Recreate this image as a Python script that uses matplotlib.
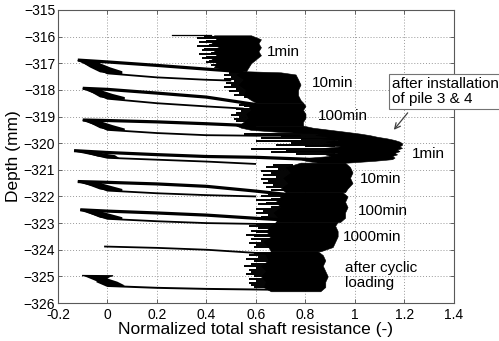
import numpy as np
import matplotlib.pyplot as plt

plt.rcParams['font.family'] = ['Liberation Sans', 'DejaVu Sans']

# ---- values: x = normalized shaft resistance, d = depth (mm)

start_x = [0.26, 0.42]
start_d = [-315.95, -315.95]

# unload / reload loops (upper branch thick, lower branch thin)
up_x = [
    [-0.12, 0.0, 0.2, 0.4, 0.55],
    [-0.10, 0.0, 0.2, 0.4, 0.6],
    [-0.10, 0.0, 0.2, 0.4, 0.6],
    [-0.135, 0.0, 0.2, 0.4, 0.6, 0.8, 0.96],
    [-0.12, 0.0, 0.2, 0.4, 0.6, 0.75],
    [-0.11, 0.0, 0.2, 0.4, 0.6, 0.75],
]
up_d = [
    [-316.88, -316.95, -317.08, -317.22, -317.32],
    [-317.94, -317.98, -318.12, -318.27, -318.55],
    [-319.13, -319.15, -319.2, -319.27, -319.35],
    [-320.28, -320.35, -320.43, -320.5, -320.53, -320.6, -320.68],
    [-321.44, -321.47, -321.53, -321.62, -321.8, -321.95],
    [-322.5, -322.55, -322.62, -322.7, -322.82, -322.9],
]
lo_x = [
    [-0.12, -0.06, 0.0, 0.2, 0.4, 0.5],
    [-0.10, -0.04, 0.0, 0.2, 0.4, 0.55],
    [-0.10, -0.04, 0.0, 0.2, 0.4, 0.6, 0.78],
    [-0.135, -0.06, 0.0, 0.2, 0.4, 0.6],
    [-0.12, -0.05, 0.0, 0.2, 0.4, 0.6],
    [-0.11, -0.05, 0.0, 0.2, 0.4, 0.6],
]
lo_d = [
    [-316.88, -317.12, -317.38, -317.53, -317.62, -317.65],
    [-317.94, -318.15, -318.33, -318.5, -318.62, -318.7],
    [-319.13, -319.32, -319.5, -319.62, -319.7, -319.72, -319.72],
    [-320.28, -320.42, -320.55, -320.62, -320.69, -320.78],
    [-321.44, -321.6, -321.78, -321.88, -321.95, -322.0],
    [-322.5, -322.68, -322.84, -322.93, -323.0, -323.03],
]
# dark wedge at the tip of every loop
patch_x = [
    [-0.12, -0.03, -0.03, 0.01, 0.06, 0.06, 0.0, -0.03, -0.07],
    [-0.10, -0.02, -0.02, 0.02, 0.07, 0.07, 0.0, -0.03, -0.06],
    [-0.10, -0.02, -0.02, 0.02, 0.07, 0.07, 0.0, -0.03, -0.06],
    [-0.135, -0.03, -0.02, 0.03, 0.05, 0.0, -0.04, -0.08],
    [-0.12, -0.03, -0.02, 0.02, 0.06, 0.06, 0.0, -0.03, -0.07],
    [-0.11, -0.03, -0.02, 0.02, 0.06, 0.06, 0.0, -0.03, -0.07],
    [-0.10, 0.02, 0.0, 0.04, 0.07, 0.05, 0.0, -0.04],
]
patch_d = [
    [-316.88, -316.93, -317.0, -317.15, -317.3, -317.43, -317.38, -317.34, -317.16],
    [-317.94, -317.97, -318.03, -318.15, -318.27, -318.37, -318.33, -318.28, -318.12],
    [-319.13, -319.14, -319.2, -319.32, -319.45, -319.54, -319.5, -319.44, -319.3],
    [-320.28, -320.33, -320.38, -320.45, -320.57, -320.55, -320.5, -320.4],
    [-321.44, -321.46, -321.52, -321.62, -321.72, -321.81, -321.78, -321.74, -321.6],
    [-322.5, -322.53, -322.58, -322.68, -322.78, -322.87, -322.84, -322.8, -322.65],
    [-324.97, -324.98, -325.08, -325.2, -325.34, -325.4, -325.36, -325.2],
]

line7_x = [-0.01, 0.2, 0.4, 0.6, 0.68]
line7_d = [-323.88, -323.93, -324.0, -324.12, -324.2]
loop8_up_x = [-0.10, 0.02]
loop8_up_d = [-324.97, -324.98]
loop8_lo_x = [-0.04, 0.0, 0.2, 0.4, 0.67]
loop8_lo_d = [-325.2, -325.36, -325.43, -325.47, -325.5]

# noisy jacking bands: depth, core left edge, right edge
bA_d = [-315.95, -316.1, -316.25, -316.4, -316.55, -316.7, -316.85, -317.0, -317.15, -317.3]
bA_l = [0.43, 0.44, 0.42, 0.45, 0.43, 0.44, 0.42, 0.44, 0.43, 0.50]
bA_r = [0.58, 0.62, 0.61, 0.62, 0.61, 0.62, 0.60, 0.58, 0.57, 0.56]

bB_d = [-317.3, -317.34, -317.42, -317.6, -317.8, -318.0, -318.2, -318.38, -318.48]
bB_l = [0.55, 0.54, 0.52, 0.55, 0.53, 0.56, 0.55, 0.58, 0.6]
bB_r = [0.56, 0.70, 0.76, 0.77, 0.78, 0.77, 0.77, 0.78, 0.79]

bC_d = [-318.48, -318.6, -318.75, -318.9, -319.05, -319.2, -319.34]
bC_l = [0.58, 0.57, 0.58, 0.56, 0.57, 0.55, 0.53]
bC_r = [0.79, 0.80, 0.79, 0.80, 0.80, 0.79, 0.79]

bD_d = [-319.34, -319.42, -319.5, -319.58, -319.64, -319.7, -319.76, -319.82, -319.88,
        -319.94, -320.0, -320.06, -320.12, -320.18, -320.24, -320.3, -320.36, -320.42,
        -320.48, -320.54, -320.6, -320.66, -320.73]
bD_l = [0.52, 0.54, 0.58, 0.70, 0.86, 0.84, 0.90, 0.86, 0.93, 0.88, 0.91, 0.86, 0.94,
        0.87, 0.91, 0.85, 0.93, 0.88, 0.90, 0.82, 0.78, 0.80, 0.85]
bD_r = [0.79, 0.83, 0.90, 0.97, 1.02, 1.06, 1.09, 1.13, 1.16, 1.18, 1.19, 1.19, 1.18,
        1.19, 1.17, 1.18, 1.16, 1.17, 1.15, 1.16, 1.15, 1.08, 0.97]

bE_d = [-320.73, -320.9, -321.1, -321.3, -321.5, -321.7, -321.84]
bE_l = [0.78, 0.72, 0.74, 0.71, 0.73, 0.70, 0.72]
bE_r = [0.96, 0.98, 0.99, 0.98, 0.99, 0.97, 0.96]

bF_d = [-321.84, -322.0, -322.2, -322.4, -322.6, -322.8, -322.96]
bF_l = [0.72, 0.70, 0.68, 0.70, 0.67, 0.69, 0.68]
bF_r = [0.95, 0.97, 0.96, 0.97, 0.96, 0.96, 0.94]

bG_d = [-322.96, -323.1, -323.3, -323.5, -323.7, -323.9, -324.06]
bG_l = [0.68, 0.66, 0.64, 0.66, 0.63, 0.65, 0.66]
bG_r = [0.93, 0.92, 0.93, 0.93, 0.92, 0.91, 0.86]

bH_d = [-324.06, -324.2, -324.4, -324.6, -324.8, -325.0, -325.2, -325.4, -325.56]
bH_l = [0.66, 0.64, 0.65, 0.62, 0.64, 0.62, 0.64, 0.63, 0.66]
bH_r = [0.85, 0.87, 0.88, 0.87, 0.88, 0.89, 0.88, 0.88, 0.86]

# streaks sticking out to the left of each band (depth, tip x)
sA_d = [-316.0, -316.06, -316.15, -316.22, -316.3, -316.37, -316.45, -316.52, -316.6,
        -316.67, -316.75, -316.82, -316.9, -316.97, -317.05]
sA_x = [0.39, 0.36, 0.40, 0.37, 0.41, 0.36, 0.39, 0.38, 0.42, 0.37, 0.40, 0.38, 0.41,
        0.40, 0.42]
sB_d = [-317.38, -317.45, -317.52, -317.6, -317.67, -317.75, -317.82, -317.9, -317.97,
        -318.05, -318.12, -318.2, -318.28]
sB_x = [0.49, 0.47, 0.50, 0.47, 0.51, 0.48, 0.50, 0.47, 0.52, 0.49, 0.53, 0.51, 0.55]
sC_d = [-318.55, -318.62, -318.7, -318.78, -318.85, -318.93, -319.0, -319.08, -319.16]
sC_x = [0.53, 0.55, 0.52, 0.54, 0.52, 0.50, 0.53, 0.51, 0.52]
sD_d = [-319.66, -319.72, -319.8, -319.86, -319.92, -320.0, -320.05, -320.12, -320.2,
        -320.28, -320.34, -320.4]
sD_x = [0.55, 0.70, 0.62, 0.78, 0.60, 0.74, 0.68, 0.80, 0.58, 0.72, 0.66, 0.76]
sE_d = [-320.82, -320.9, -320.97, -321.05, -321.12, -321.2, -321.28, -321.35, -321.43,
        -321.5, -321.58, -321.66, -321.74]
sE_x = [0.67, 0.64, 0.69, 0.62, 0.66, 0.63, 0.68, 0.62, 0.65, 0.63, 0.67, 0.64, 0.66]
sF_d = [-321.92, -322.0, -322.08, -322.15, -322.23, -322.3, -322.38, -322.46, -322.54,
        -322.62, -322.7, -322.78, -322.86]
sF_x = [0.65, 0.62, 0.66, 0.60, 0.64, 0.61, 0.66, 0.60, 0.63, 0.60, 0.65, 0.62, 0.64]
sG_d = [-323.04, -323.12, -323.2, -323.28, -323.35, -323.43, -323.5, -323.58, -323.66,
        -323.74, -323.82, -323.9]
sG_x = [0.60, 0.57, 0.61, 0.58, 0.60, 0.56, 0.59, 0.58, 0.62, 0.57, 0.60, 0.59]
sH_d = [-324.12, -324.2, -324.28, -324.36, -324.44, -324.52, -324.6, -324.68, -324.76,
        -324.84, -324.92, -325.0, -325.08, -325.16, -325.24, -325.32, -325.4]
sH_x = [0.59, 0.57, 0.61, 0.56, 0.59, 0.58, 0.55, 0.60, 0.57, 0.58, 0.56, 0.59, 0.57,
        0.60, 0.57, 0.58, 0.59]

bands = [(bA_d, bA_l, bA_r), (bB_d, bB_l, bB_r), (bC_d, bC_l, bC_r), (bD_d, bD_l, bD_r),
         (bE_d, bE_l, bE_r), (bF_d, bF_l, bF_r), (bG_d, bG_l, bG_r), (bH_d, bH_l, bH_r)]
streaks = [(sA_d, sA_x, 0.44), (sB_d, sB_x, 0.55), (sC_d, sC_x, 0.58), (sD_d, sD_x, 0.9),
           (sE_d, sE_x, 0.73), (sF_d, sF_x, 0.70), (sG_d, sG_x, 0.66), (sH_d, sH_x, 0.64)]

labels = ['1min', '10min', '100min', '1min', '10min', '100min', '1000min',
          'after cyclic\nloading']
label_x = [0.645, 0.826, 0.85, 1.23, 1.02, 1.01, 0.95, 0.96]
label_d = [-316.58, -317.74, -318.98, -320.4, -321.34, -322.55, -323.54, -324.97]

# ---- plot
fig = plt.figure(figsize=(4.99, 3.41), dpi=100)
ax = fig.add_axes([0.1162, 0.1114, 0.7936, 0.8593])

k = 'black'
ax.plot(start_x, start_d, color=k, lw=0.9)
for d, l, r in bands:
    ax.fill_betweenx(d, l, r, color=k, lw=0.4, edgecolor=k)
for d, x, core in streaks:
    ax.hlines(d, x, core + 0.02, color=k, lw=1.4)

for i in range(len(up_x)):
    ax.plot(up_x[i], up_d[i], color=k, lw=2.3, solid_capstyle='butt')
    ax.plot(lo_x[i], lo_d[i], color=k, lw=1.3, solid_capstyle='butt')
for px, pd in zip(patch_x, patch_d):
    ax.fill(px, pd, color=k, lw=0)

ax.plot(line7_x, line7_d, color=k, lw=1.3)
ax.plot(loop8_up_x, loop8_up_d, color=k, lw=1.0)
ax.plot(loop8_lo_x, loop8_lo_d, color=k, lw=1.4)

for t, x, y in zip(labels, label_x, label_d):
    ax.text(x, y, t, fontsize=11, ha='left', va='center', linespacing=1.1)

ax.text(1.15, -318.06, 'after installation\nof pile 3 & 4', fontsize=11, ha='left',
        va='center', linespacing=1.1, clip_on=False,
        bbox=dict(boxstyle='square,pad=0.2', fc='white', ec='0.45', lw=0.8))
ax.annotate('', xy=(1.15, -319.58), xytext=(1.22, -318.78),
            arrowprops=dict(arrowstyle='->', color='0.25', lw=0.9))

ax.set_xlim(-0.2, 1.4)
ax.set_ylim(-326, -315)
ax.set_xticks(np.arange(-0.2, 1.41, 0.2))
ax.set_xticklabels(['-0.2', '0', '0.2', '0.4', '0.6', '0.8', '1', '1.2', '1.4'])
ax.set_yticks(np.arange(-326, -314, 1))
ax.grid(True, linestyle=(0, (1, 2)), color='0.6', lw=0.7)
ax.set_axisbelow(True)
ax.tick_params(direction='in', length=3, width=0.6, labelsize=10, pad=2,
               top=True, right=True, color='0.3')
ax.tick_params(axis='x', pad=3.5)
for s in ax.spines.values():
    s.set_color('0.35')
    s.set_linewidth(0.8)

ax.set_xlabel('Normalized total shaft resistance (-)', fontsize=12.5, labelpad=0)
ax.set_ylabel('Depth (mm)', fontsize=12.5, labelpad=2)

fig.savefig('out.png', dpi=100)
